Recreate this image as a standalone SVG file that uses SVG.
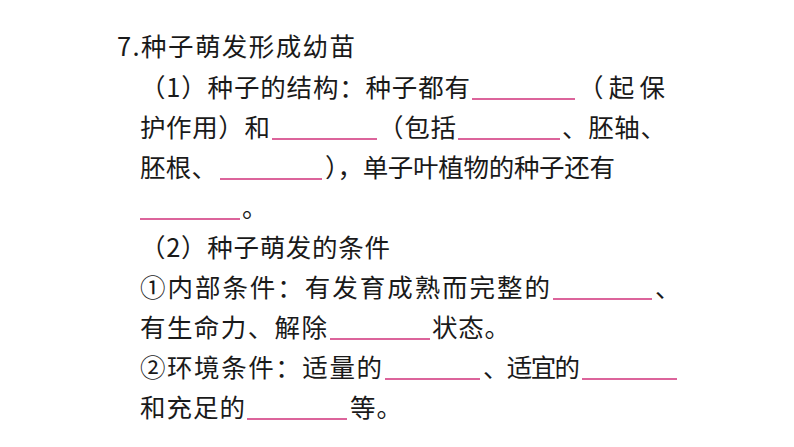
<svg xmlns="http://www.w3.org/2000/svg" width="794" height="447" viewBox="0 0 794 447">
<style>
text{font-family:"Noto Sans CJK SC","Liberation Sans",sans-serif;font-size:25.5px;fill:#1a1a1a}
.b{stroke:#d1307a;stroke-width:1.6}
</style>
<rect width="794" height="447" fill="#fff"/>
<g id="text">
<text x="117" y="56" textLength="238">7.种子萌发形成幼苗</text>
<text x="140" y="97" textLength="330">（1）种子的结构：种子都有</text><text x="578" y="97" textLength="87">（起保</text>
<text x="140" y="137" textLength="130">护作用）和</text><text x="378" y="137" textLength="78">（包括</text><text x="562" y="137" textLength="104">、胚轴、</text>
<text x="140" y="177" textLength="77">胚根、</text><text x="325" y="177" textLength="290">），单子叶植物的种子还有</text>
<text x="242" y="217">。</text>
<text x="140" y="257" textLength="250">（2）种子萌发的条件</text>
<text x="140" y="297" textLength="410">①内部条件：有发育成熟而完整的</text><text x="655" y="297">、</text>
<text x="140" y="337" textLength="187">有生命力、解除</text><text x="432" y="337" textLength="78">状态。</text>
<text x="140" y="377" textLength="242">②环境条件：适量的</text><text x="483" y="377" textLength="97">、适宜的</text>
<text x="140" y="417" textLength="105">和充足的</text><text x="350" y="417" textLength="52">等。</text>
</g>
<g id="blanks" class="b">
<line x1="472" y1="99" x2="575" y2="99"/>
<line x1="272" y1="139" x2="377" y2="139"/>
<line x1="458" y1="139" x2="560" y2="139"/>
<line x1="220" y1="179" x2="322" y2="179"/>
<line x1="140" y1="219" x2="240" y2="219"/>
<line x1="553" y1="299" x2="652" y2="299"/>
<line x1="330" y1="339" x2="430" y2="339"/>
<line x1="385" y1="379" x2="480" y2="379"/>
<line x1="582" y1="379" x2="677" y2="379"/>
<line x1="247" y1="419" x2="347" y2="419"/>
</g>
</svg>
